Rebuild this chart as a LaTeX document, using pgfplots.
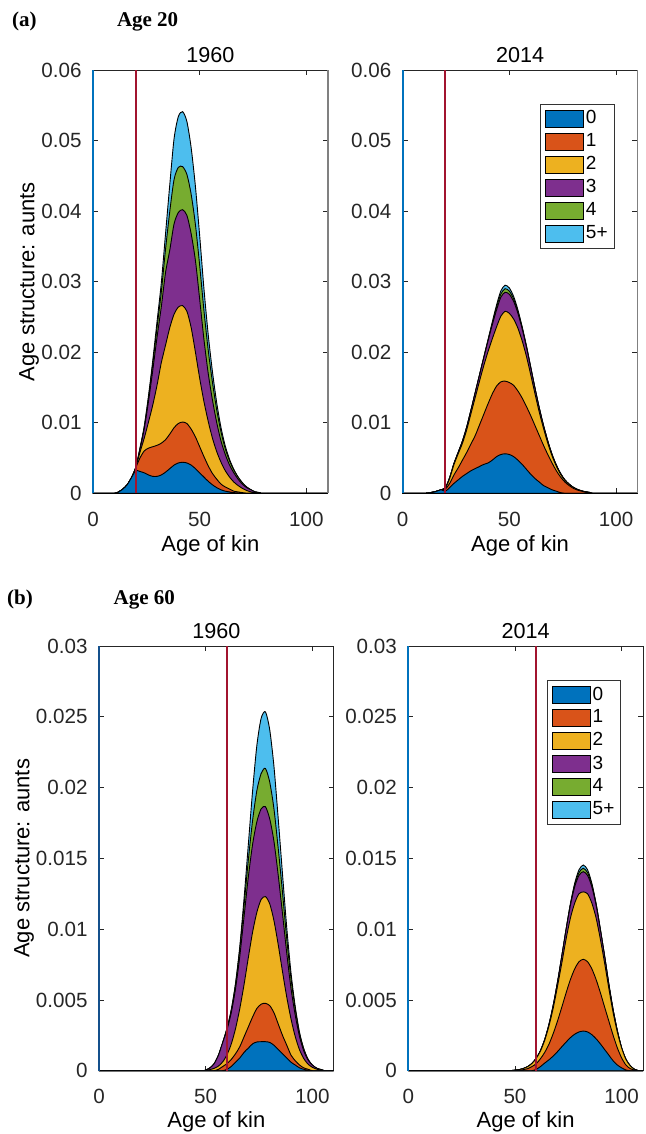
\documentclass[border=0pt]{standalone}
\usepackage{pgfplots}
\pgfplotsset{compat=1.18}
\usepackage{pgfplotstable}
\usepackage{fontspec}
\setmainfont{Liberation Sans}
\newfontfamily\tnr{Liberation Serif}
\definecolor{c0}{RGB}{0,114,189}
\definecolor{c1}{RGB}{217,83,25}
\definecolor{c2}{RGB}{237,177,32}
\definecolor{c3}{RGB}{126,47,142}
\definecolor{c4}{RGB}{119,172,48}
\definecolor{c5}{RGB}{77,190,238}
\definecolor{mred}{RGB}{162,20,47}
\definecolor{dblue}{RGB}{20,80,140}

% Panel (a), 1960: cumulative stacks
\pgfplotstableread{
x c0 c1 c2 c3 c4 c5
0 0 0 0 0 0 0
10 0 0 0 0 0 0
12 0.0002 0.0002 0.0002 0.0002 0.0002 0.0002
14 0.0006 0.0006 0.0006 0.0006 0.0006 0.0006
16 0.0012 0.0012 0.0012 0.0012 0.0012 0.0012
18 0.0022 0.0022 0.0022 0.0022 0.0022 0.0022
20 0.0032 0.0036 0.0036 0.0036 0.0036 0.0036
22 0.0031 0.0050 0.0058 0.0062 0.0063 0.0064
24 0.0029 0.0060 0.0078 0.0091 0.0093 0.0095
26 0.0026 0.0064 0.0101 0.0130 0.0135 0.0138
28 0.0024 0.0066 0.0125 0.0174 0.0183 0.0188
30 0.0024 0.0068 0.0153 0.0221 0.0235 0.0243
32 0.0026 0.0071 0.0185 0.0264 0.0285 0.0298
34 0.0030 0.0076 0.0210 0.0313 0.0346 0.0368
36 0.0035 0.0084 0.0235 0.0345 0.0400 0.0438
38 0.0040 0.0093 0.0254 0.0382 0.0445 0.0503
40 0.0043 0.0099 0.0264 0.0398 0.0462 0.0534
42 0.0044 0.0101 0.0266 0.0402 0.0463 0.0541
44 0.0043 0.0099 0.0258 0.0394 0.0452 0.0527
46 0.0040 0.0091 0.0235 0.0368 0.0424 0.0490
48 0.0035 0.0080 0.0200 0.0330 0.0381 0.0435
50 0.0029 0.0066 0.0163 0.0275 0.0323 0.0365
52 0.0023 0.0052 0.0130 0.0218 0.0259 0.0290
54 0.0017 0.0039 0.0102 0.0170 0.0203 0.0225
56 0.0012 0.0028 0.0078 0.0132 0.0157 0.0172
58 0.0008 0.0020 0.0059 0.0100 0.0118 0.0128
60 0.0005 0.0013 0.0044 0.0074 0.0087 0.0093
62 0.0003 0.0009 0.0032 0.0055 0.0063 0.0067
64 0.0002 0.0006 0.0023 0.0040 0.0046 0.0048
66 0.0001 0.0003 0.0016 0.0029 0.0033 0.0034
68 0.00005 0.0002 0.0011 0.0020 0.0023 0.0023
70 0 0.0001 0.0007 0.0013 0.0015 0.0015
72 0 0 0.0004 0.0008 0.0009 0.0009
74 0 0 0.0002 0.0005 0.0005 0.0005
76 0 0 0.0001 0.0002 0.0002 0.0002
78 0 0 0 0.0001 0.0001 0.0001
80 0 0 0 0 0 0
110 0 0 0 0 0 0
}\tabAa

% Panel (a), 2014
\pgfplotstableread{
x c0 c1 c2 c3 c4 c5
0 0 0 0 0 0 0
10 0 0 0 0 0 0
12 0.00005 0.00005 0.00005 0.00005 0.00005 0.00005
14 0.00015 0.00015 0.00015 0.00015 0.00015 0.00015
16 0.0003 0.0003 0.0003 0.0003 0.0003 0.0003
18 0.0005 0.0005 0.0005 0.0005 0.0005 0.0005
20 0.0003 0.0006 0.00075 0.0008 0.0008 0.0008
22 0.0008 0.0014 0.0021 0.0022 0.0022 0.0022
24 0.0014 0.0026 0.00405 0.0042 0.0042 0.0042
26 0.0019 0.0036 0.0056 0.0058 0.0058 0.0058
28 0.0024 0.0047 0.0071 0.0074 0.0074 0.0074
30 0.0028 0.0058 0.0090 0.0094 0.0094 0.0094
32 0.0032 0.0070 0.0113 0.0118 0.0118 0.0118
34 0.0035 0.0082 0.0136 0.0143 0.0143 0.0143
36 0.0038 0.0097 0.0159 0.01675 0.0168 0.0168
38 0.0041 0.0112 0.0181 0.0192 0.01925 0.0193
40 0.0043 0.0127 0.0201 0.0216 0.0217 0.0218
42 0.0047 0.0141 0.0219 0.0239 0.0241 0.0243
44 0.0052 0.0152 0.0236 0.0260 0.0264 0.0267
46 0.0055 0.0158 0.0251 0.0278 0.02825 0.0287
48 0.0056 0.0159 0.0258 0.0285 0.0290 0.0295
50 0.0055 0.0157 0.0255 0.0282 0.02865 0.0291
52 0.0052 0.0153 0.0247 0.0272 0.02755 0.0279
54 0.0047 0.0145 0.0234 0.0255 0.02575 0.0260
56 0.0041 0.0135 0.0216 0.0233 0.02345 0.0236
58 0.0034 0.0123 0.0194 0.0207 0.0208 0.0209
60 0.0027 0.0110 0.0168 0.0178 0.01785 0.0179
62 0.0021 0.0096 0.0141 0.01485 0.0149 0.0149
64 0.0016 0.0082 0.0115 0.0121 0.0121 0.0121
66 0.0011 0.0068 0.0092 0.0096 0.0096 0.0096
68 0.0008 0.0055 0.0071 0.0074 0.0074 0.0074
70 0.0005 0.0043 0.0053 0.0055 0.0055 0.0055
72 0.0003 0.0032 0.00385 0.0040 0.0040 0.0040
74 0.0001 0.0023 0.0027 0.0028 0.0028 0.0028
76 0 0.0016 0.00183 0.0019 0.0019 0.0019
78 0 0.0011 0.00125 0.0013 0.0013 0.0013
80 0 0.0007 0.00084 0.00084 0.00084 0.00084
82 0 0.00045 0.00053 0.00053 0.00053 0.00053
84 0 0.00028 0.00033 0.00033 0.00033 0.00033
86 0 0.00016 0.0002 0.0002 0.0002 0.0002
88 0 0.00008 0.0001 0.0001 0.0001 0.0001
90 0 0 0 0 0 0
110 0 0 0 0 0 0
}\tabAb

% Panel (b), 1960
\pgfplotstableread{
x c0 c1 c2 c3 c4 c5
0 0 0 0 0 0 0
48 0 0 0 0 0 0
50 0 0 0.00003 0.00005 0.00005 0.00005
52 0 0 0.00008 0.0002 0.0002 0.0002
54 0 0 0.00017 0.0005 0.0005 0.0005
56 0 0.0001 0.00033 0.0011 0.0011 0.0011
58 0 0.0003 0.00063 0.0020 0.0020 0.0020
60 0.0001 0.0005 0.00113 0.0029 0.0030 0.0030
62 0.0003 0.0008 0.00189 0.0041 0.0043 0.0043
64 0.0006 0.0012 0.00298 0.0058 0.0061 0.0062
66 0.0009 0.0017 0.0044 0.0081 0.0086 0.0088
68 0.0013 0.0024 0.0061 0.0109 0.0117 0.0122
70 0.0016 0.0031 0.0080 0.0137 0.0149 0.0160
72 0.0019 0.0038 0.0098 0.0160 0.0177 0.0198
74 0.00203 0.0044 0.0112 0.0176 0.0198 0.0230
76 0.00205 0.0047 0.0121 0.0185 0.0210 0.0249
78 0.00205 0.00476 0.0123 0.01865 0.02135 0.02535
80 0.0020 0.0046 0.0118 0.0178 0.0204 0.0241
82 0.0018 0.0041 0.0106 0.0162 0.0185 0.0215
84 0.0015 0.0033 0.0089 0.0138 0.0157 0.0178
86 0.0012 0.0025 0.0070 0.0111 0.0126 0.0139
88 0.0009 0.0018 0.0052 0.0083 0.0093 0.0101
90 0.0006 0.0011 0.00365 0.0058 0.0065 0.0069
92 0.0004 0.0007 0.0024 0.0039 0.0043 0.0045
94 0.0002 0.0004 0.00147 0.0024 0.0026 0.0027
96 0.0001 0.0002 0.00085 0.00138 0.00153 0.00153
98 0.00003 0.0001 0.00046 0.00075 0.0008 0.0008
100 0 0 0.00024 0.0004 0.0004 0.0004
102 0 0 0.00011 0.00018 0.00018 0.00018
104 0 0 0.00005 0.00008 0.00008 0.00008
106 0 0 0 0 0 0
110 0 0 0 0 0 0
}\tabBa

% Panel (b), 2014
\pgfplotstableread{
x c0 c1 c2 c3 c4 c5
0 0 0 0 0 0 0
48 0 0 0 0 0 0
50 0 0 0.00004 0.00004 0.00004 0.00004
52 0 0.00002 0.00008 0.00008 0.00008 0.00008
54 0 0.00008 0.00016 0.00016 0.00016 0.00016
56 0 0.00015 0.00029 0.00029 0.00029 0.00029
58 0 0.0003 0.00052 0.00052 0.00052 0.00052
60 0.0001 0.0005 0.00089 0.00089 0.00089 0.00089
62 0.0003 0.00086 0.00141 0.00144 0.00144 0.00144
64 0.00055 0.00131 0.00218 0.00223 0.00223 0.00223
66 0.00078 0.0019 0.00321 0.00331 0.00331 0.00331
68 0.00105 0.00266 0.00448 0.00468 0.00468 0.00468
70 0.00136 0.00354 0.00602 0.00632 0.00632 0.00632
72 0.0017 0.00452 0.00765 0.00815 0.00815 0.00815
74 0.00203 0.00552 0.00934 0.00999 0.01004 0.01004
76 0.00234 0.00645 0.0108 0.0117 0.0118 0.0118
78 0.00258 0.0072 0.01185 0.0130 0.01315 0.01325
80 0.00274 0.0077 0.0125 0.0138 0.0140 0.0142
82 0.0028 0.00787 0.01263 0.01406 0.0143 0.01453
84 0.00274 0.0077 0.0125 0.0138 0.0140 0.0142
86 0.00255 0.0072 0.01185 0.0130 0.01315 0.01325
88 0.00226 0.00645 0.0108 0.0117 0.0118 0.0118
90 0.0019 0.00552 0.0093 0.00995 0.0100 0.0100
92 0.0015 0.0045 0.0076 0.0081 0.0081 0.0081
94 0.0011 0.0035 0.0058 0.0061 0.0061 0.0061
96 0.0007 0.0025 0.0041 0.0043 0.0043 0.0043
98 0.0004 0.0016 0.0027 0.0028 0.0028 0.0028
100 0.0002 0.0009 0.0016 0.0016 0.0016 0.0016
102 0.00005 0.0004 0.0008 0.0008 0.0008 0.0008
104 0 0.00015 0.00035 0.00035 0.00035 0.00035
106 0 0.00005 0.0001 0.0001 0.0001 0.0001
108 0 0 0 0 0 0
110 0 0 0 0 0 0
}\tabBb

\pgfplotsset{
  panel/.style={
    scale only axis, width=117.35pt,
    xmin=0, xmax=110, ymin=0,
    xtick={0,50,100},
    tick align=inside, major tick length=2.5pt,
    axis line style={black!85, line width=0.4pt},
    tick style={black!85, line width=0.4pt},
    /pgf/number format/assume math mode=true,
    ticklabel style={font=\fontsize{10.3}{12}\selectfont, text=black!85},
    xticklabel style={yshift=-5.8pt},
    yticklabel style={xshift=-2.2pt, /pgf/number format/fixed, /pgf/number format/precision=3},
    scaled y ticks=false,
    xlabel={Age of kin},
    label style={font=\fontsize{11}{13}\selectfont},
    title style={font=\fontsize{10.8}{13}\selectfont, yshift=-6pt},
    clip=false,
    anchor=south west,
  },
  lay/.style={draw=black, line width=0.45pt, fill=#1, forget plot, smooth, tension=0.45},
  legpatch/.style={
    legend image code/.code={\draw[##1,draw=black,line width=0.4pt] (0pt,-4.25pt) rectangle (19pt,4.25pt);},
    legend cell align=left,
    legend style={font=\fontsize{9.5}{11}\selectfont, draw=black!80, line width=0.4pt,
      inner xsep=2pt, inner ysep=1.5pt, row sep=0pt,
      nodes={inner xsep=1.2pt, inner ysep=1.7pt}},
  },
}

\begin{document}
\begin{tikzpicture}
\useasboundingbox (0,0) rectangle (322.5pt,-567pt);
\node[anchor=base west, font=\tnr\bfseries\fontsize{10.5}{12}\selectfont, inner sep=0pt] at (5.85pt,-13.35pt) {(a)};
\node[anchor=base west, font=\tnr\bfseries\fontsize{10.5}{12}\selectfont, inner sep=0pt] at (58.3pt,-13.35pt) {Age 20};
\node[anchor=base west, font=\tnr\bfseries\fontsize{10.5}{12}\selectfont, inner sep=0pt] at (3.35pt,-302pt) {(b)};
\node[anchor=base west, font=\tnr\bfseries\fontsize{10.5}{12}\selectfont, inner sep=0pt] at (56.65pt,-302pt) {Age 60};

% ---------- (a) 1960
\begin{axis}[panel, at={(46.5pt,-246.65pt)}, height=211.65pt, ymax=0.06,
  ytick={0,0.01,0.02,0.03,0.04,0.05,0.06}, title={1960},
  ylabel={Age structure: aunts},
  ylabel style={at={(axis description cs:-0.272,0.5)}, anchor=center},
  xlabel style={at={(axis description cs:0.5,-0.124)}, anchor=center}]
\addplot[lay=c5] table[x=x,y=c5]{\tabAa} \closedcycle;
\addplot[lay=c4] table[x=x,y=c4]{\tabAa} \closedcycle;
\addplot[lay=c3] table[x=x,y=c3]{\tabAa} \closedcycle;
\addplot[lay=c2] table[x=x,y=c2]{\tabAa} \closedcycle;
\addplot[lay=c1] table[x=x,y=c1]{\tabAa} \closedcycle;
\addplot[lay=c0] table[x=x,y=c0]{\tabAa} \closedcycle;
\addplot[forget plot, color=mred, line width=0.9pt] coordinates {(20,0) (20,0.06)};
\addplot[forget plot, color=c0, line width=1pt] coordinates {(0,0) (0,0.06)};
\draw[black!50, line width=0.8pt] (rel axis cs:1,0) -- (rel axis cs:1,1);
\end{axis}

% ---------- (a) 2014
\begin{axis}[panel, legpatch, at={(201.35pt,-246.65pt)}, height=211.65pt, ymax=0.06,
  ytick={0,0.01,0.02,0.03,0.04,0.05,0.06}, title={2014},
  xlabel style={at={(axis description cs:0.5,-0.124)}, anchor=center},
  legend style={at={(0.902,0.92)}, anchor=north east}]
\addlegendimage{fill=c0}\addlegendentry{0}
\addlegendimage{fill=c1}\addlegendentry{1}
\addlegendimage{fill=c2}\addlegendentry{2}
\addlegendimage{fill=c3}\addlegendentry{3}
\addlegendimage{fill=c4}\addlegendentry{4}
\addlegendimage{fill=c5}\addlegendentry{5+}
\addplot[lay=c5] table[x=x,y=c5]{\tabAb} \closedcycle;
\addplot[lay=c4] table[x=x,y=c4]{\tabAb} \closedcycle;
\addplot[lay=c3] table[x=x,y=c3]{\tabAb} \closedcycle;
\addplot[lay=c2] table[x=x,y=c2]{\tabAb} \closedcycle;
\addplot[lay=c1] table[x=x,y=c1]{\tabAb} \closedcycle;
\addplot[lay=c0] table[x=x,y=c0]{\tabAb} \closedcycle;
\addplot[forget plot, color=mred, line width=0.9pt] coordinates {(20,0) (20,0.06)};
\addplot[forget plot, color=c0, line width=1pt] coordinates {(0,0) (0,0.06)};
\draw[black!50, line width=0.8pt] (rel axis cs:1,0) -- (rel axis cs:1,1);
\end{axis}

% ---------- (b) 1960
\begin{axis}[panel, at={(49.5pt,-535.35pt)}, height=212.35pt, ymax=0.03,
  ytick={0,0.005,0.01,0.015,0.02,0.025,0.03}, title={1960},
  ylabel={Age structure: aunts},
  ylabel style={at={(axis description cs:-0.319,0.5)}, anchor=center},
  xlabel style={at={(axis description cs:0.5,-0.121)}, anchor=center}]
\addplot[lay=c5] table[x=x,y=c5]{\tabBa} \closedcycle;
\addplot[lay=c4] table[x=x,y=c4]{\tabBa} \closedcycle;
\addplot[lay=c3] table[x=x,y=c3]{\tabBa} \closedcycle;
\addplot[lay=c2] table[x=x,y=c2]{\tabBa} \closedcycle;
\addplot[lay=c1] table[x=x,y=c1]{\tabBa} \closedcycle;
\addplot[lay=c0] table[x=x,y=c0]{\tabBa} \closedcycle;
\addplot[forget plot, color=mred, line width=0.9pt] coordinates {(60,0) (60,0.03)};
\addplot[forget plot, color=dblue, line width=1pt] coordinates {(0,0) (0,0.03)};
\end{axis}

% ---------- (b) 2014
\begin{axis}[panel, legpatch, at={(204.15pt,-535.35pt)}, height=212.35pt, ymax=0.03,
  ytick={0,0.005,0.01,0.015,0.02,0.025,0.03}, title={2014},
  xlabel style={at={(axis description cs:0.5,-0.121)}, anchor=center},
  legend style={at={(0.907,0.92)}, anchor=north east}]
\addlegendimage{fill=c0}\addlegendentry{0}
\addlegendimage{fill=c1}\addlegendentry{1}
\addlegendimage{fill=c2}\addlegendentry{2}
\addlegendimage{fill=c3}\addlegendentry{3}
\addlegendimage{fill=c4}\addlegendentry{4}
\addlegendimage{fill=c5}\addlegendentry{5+}
\addplot[lay=c5] table[x=x,y=c5]{\tabBb} \closedcycle;
\addplot[lay=c4] table[x=x,y=c4]{\tabBb} \closedcycle;
\addplot[lay=c3] table[x=x,y=c3]{\tabBb} \closedcycle;
\addplot[lay=c2] table[x=x,y=c2]{\tabBb} \closedcycle;
\addplot[lay=c1] table[x=x,y=c1]{\tabBb} \closedcycle;
\addplot[lay=c0] table[x=x,y=c0]{\tabBb} \closedcycle;
\addplot[forget plot, color=mred, line width=0.9pt] coordinates {(60,0) (60,0.03)};
\addplot[forget plot, color=c0, line width=1pt] coordinates {(0,0) (0,0.03)};
\end{axis}
\end{tikzpicture}
\end{document}
